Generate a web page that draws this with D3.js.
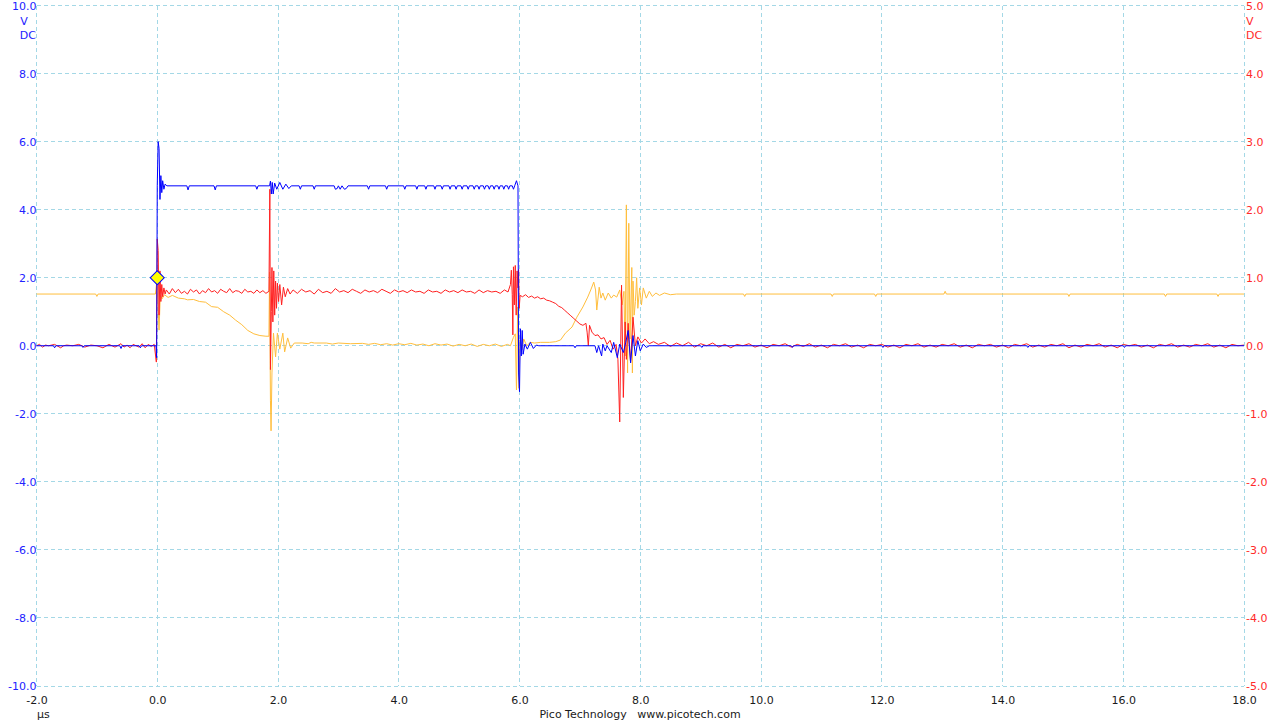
<!DOCTYPE html>
<html><head><meta charset="utf-8">
<script src="https://cdn.jsdelivr.net/npm/d3@7"></script>
<style>
body{margin:0;background:#fff}
svg{display:block}
text{font-family:"DejaVu Sans",sans-serif;font-size:11px}
</style></head>
<body><svg id="c" width="1280" height="720"></svg>
<script>
// ---- tick labels ----
const xTicks = [-2,0,2,4,6,8,10,12,14,16,18];
const leftTicks = [-10,-8,-6,-4,-2,0,2,4,6,8,10];
const rightTicks = [-5,-4,-3,-2,-1,0,1,2,3,4,5];
const xUnit = "µs";
const leftUnit = ["V","DC"];
const rightUnit = ["V","DC"];
const footer = "Pico Technology   www.picotech.com";
const trigger = [0, 2.0];   // [µs, V left axis]

// ---- Channel A (blue, left axis, V) : [time µs, volts] ----
const chA = [
[-2,0],[-1.72,0],[-1.7,-0.06],[-1.68,0],[-1.25,0],[-1.23,-0.05],[-1.21,0],[-0.62,0],[-0.6,-0.08],[-0.58,0],[-0.3,0],[-0.28,-0.06],[-0.26,0],[-0.02,0],
[-0.01,-0.35],[0,4.7],[0.015,6.0],[0.03,5.8],[0.045,4.3],[0.06,5.0],[0.075,4.5],[0.09,4.85],[0.11,4.6],[0.13,4.75],[0.16,4.7],
[0.49,4.7],[0.51,4.58],[0.53,4.7],[0.94,4.7],[0.96,4.58],[0.98,4.7],[1.63,4.7],[1.65,4.6],[1.67,4.7],
[1.86,4.7],[1.875,4.84],[1.89,4.46],[1.905,4.8],[1.92,4.46],[1.945,4.78],[1.98,4.6],[2.03,4.8],[2.08,4.6],[2.13,4.75],[2.18,4.62],[2.22,4.7],
[2.35,4.7],[2.37,4.6],[2.39,4.7],[2.58,4.7],[2.6,4.6],[2.62,4.7],
[2.93,4.7],[2.95,4.6],[2.98,4.62],[3.0,4.7],[3.03,4.6],[3.06,4.7],[3.1,4.6],[3.13,4.62],[3.16,4.7],
[3.48,4.7],[3.5,4.6],[3.52,4.7],[3.78,4.7],[3.8,4.6],[3.82,4.7],[4.08,4.7],[4.1,4.6],[4.12,4.7],
[4.28,4.7],[4.3,4.6],[4.32,4.7],[4.43,4.7],[4.45,4.6],[4.47,4.7],[4.58,4.7],[4.6,4.6],[4.62,4.7],
[4.7,4.7],[4.72,4.6],[4.74,4.7],[4.83,4.7],[4.85,4.6],[4.87,4.7],[4.93,4.7],[4.95,4.6],[4.97,4.7],
[5.03,4.7],[5.05,4.6],[5.07,4.7],[5.13,4.7],[5.15,4.6],[5.17,4.7],[5.23,4.7],[5.25,4.6],[5.27,4.7],
[5.31,4.7],[5.33,4.6],[5.35,4.7],[5.4,4.7],[5.42,4.6],[5.44,4.7],[5.48,4.7],[5.5,4.6],[5.52,4.7],
[5.56,4.7],[5.58,4.6],[5.6,4.7],[5.64,4.7],[5.66,4.6],[5.68,4.7],[5.72,4.7],[5.74,4.6],[5.76,4.7],
[5.8,4.7],[5.82,4.6],[5.84,4.7],[5.88,4.7],[5.9,4.6],[5.92,4.7],
[5.95,4.85],[5.975,4.7],[5.985,-0.8],[6.0,-1.35],[6.015,0.5],[6.03,-0.3],[6.045,0.45],[6.06,-0.25],[6.09,0.05],[6.13,-0.1],[6.18,0.1],[6.23,-0.08],[6.28,0.02],[6.32,0],
[6.9,0],[6.92,-0.06],[6.94,0],
[7.25,0],[7.28,-0.2],[7.31,0],[7.36,-0.3],[7.38,0.05],[7.42,-0.15],[7.45,0],[7.52,-0.2],[7.56,0.1],[7.62,-0.35],[7.66,0.05],[7.72,-0.2],[7.76,0.1],[7.8,0.45],[7.84,-0.5],[7.88,0.3],[7.92,-0.3],[7.96,0.15],[8.0,-0.15],[8.05,0.05],[8.1,-0.05],[8.15,0],
[9.0,0],[9.02,-0.05],[9.04,0],[10.5,0],[10.52,-0.05],[10.54,0],[12.0,0],[12.02,-0.05],[12.04,0],[14.4,0],[14.42,-0.05],[14.44,0],[16.0,0],[16.02,-0.05],[16.04,0],[18,0]
];

// ---- Channel B (red, right axis, V) ----
const chB = [
[-2,0],[-1.95,0.02],[-1.9,-0.02],[-1.85,0.01],[-1.8,0],[-1.7,0.02],[-1.6,-0.03],[-1.55,0],[-1.5,0.01],[-1.4,0],[-1.3,0.02],[-1.2,-0.02],[-1.1,0.01],[-1.0,0],[-0.9,-0.03],[-0.8,0.02],[-0.7,-0.02],[-0.6,0.03],[-0.55,-0.02],[-0.5,0.01],[-0.45,-0.03],[-0.4,0.02],[-0.3,-0.02],[-0.25,0.03],[-0.2,-0.03],[-0.15,0.02],[-0.1,-0.01],[-0.05,0.02],
[-0.015,-0.24],[0.0,1.57],[0.015,1.4],[0.03,0.45],[0.045,1.1],[0.06,0.65],[0.075,0.9],[0.09,0.72],[0.11,0.85],[0.13,0.76],
[0.15,0.82],[0.2,0.76],[0.25,0.84],[0.3,0.78],[0.35,0.83],[0.4,0.77],[0.45,0.8],[0.5,0.76],[0.55,0.83],[0.6,0.79],[0.65,0.82],[0.7,0.76],[0.75,0.81],[0.8,0.78],[0.85,0.84],[0.9,0.79],[0.95,0.81],[1.0,0.77],[1.05,0.83],[1.1,0.8],[1.15,0.78],[1.2,0.84],[1.25,0.78],[1.3,0.81],[1.35,0.8],[1.4,0.77],[1.45,0.83],[1.5,0.79],[1.55,0.8],[1.6,0.77],[1.65,0.82],[1.7,0.78],[1.75,0.81],[1.8,0.77],[1.85,0.8],
[1.865,2.3],[1.875,-0.35],[1.89,0.5],[1.9,1.15],[1.915,0.35],[1.93,1.1],[1.945,0.45],[1.96,0.95],[1.975,0.55],[1.99,0.92],[2.01,0.65],[2.03,0.9],[2.06,0.6],[2.09,0.86],[2.12,0.72],[2.16,0.84],[2.2,0.76],
[2.25,0.82],[2.32,0.77],[2.39,0.83],[2.46,0.79],[2.53,0.81],[2.6,0.76],[2.67,0.83],[2.74,0.78],[2.81,0.8],[2.88,0.77],[2.95,0.84],[3.02,0.79],[3.09,0.81],[3.16,0.78],[3.23,0.83],[3.3,0.8],[3.37,0.77],[3.44,0.82],[3.51,0.79],[3.58,0.81],[3.65,0.78],[3.72,0.83],[3.79,0.8],[3.86,0.77],[3.93,0.82],[4.0,0.79],[4.07,0.81],[4.14,0.78],[4.21,0.82],[4.28,0.79],[4.35,0.8],[4.42,0.77],[4.49,0.82],[4.56,0.79],[4.63,0.8],[4.7,0.77],[4.77,0.82],[4.84,0.79],[4.91,0.81],[4.98,0.78],[5.05,0.82],[5.12,0.79],[5.19,0.8],[5.26,0.77],[5.33,0.82],[5.4,0.78],[5.47,0.81],[5.54,0.79],[5.61,0.8],[5.68,0.77],[5.75,0.82],[5.81,0.79],
[5.85,0.9],[5.865,1.11],[5.88,0.75],[5.89,0.16],[5.9,1.16],[5.915,0.6],[5.93,1.18],[5.945,0.45],[5.96,1.1],[5.975,0.85],[5.985,1.12],[5.995,0.55],[6.01,0.74],
[6.05,0.72],[6.1,0.75],[6.15,0.71],[6.2,0.73],[6.25,0.7],[6.3,0.72],[6.35,0.69],[6.4,0.7],[6.45,0.67],[6.5,0.66],[6.55,0.64],[6.6,0.62],[6.65,0.58],[6.7,0.56],[6.75,0.52],[6.8,0.48],[6.85,0.44],[6.9,0.4],[6.95,0.36],[7.0,0.32],[7.05,0.3],[7.1,0.33],[7.12,0.2],[7.14,0.0],[7.16,0.3],[7.2,0.2],[7.25,0.15],[7.3,0.16],[7.35,0.1],[7.4,0.12],[7.45,0.02],[7.5,0.08],[7.55,-0.05],[7.6,0.02],[7.63,-0.2],[7.66,-1.12],[7.69,0.89],[7.72,-0.76],[7.75,0.35],[7.77,-0.2],[7.8,0.33],[7.84,-0.25],[7.88,0.42],[7.92,0.0],[7.96,0.13],[8.02,0.04],[8.08,0.1],[8.15,0.03],[8.22,0.06],[8.3,0.02],
[8.4,0.05],[8.5,-0.01],[8.6,0.04],[8.7,0.0],[8.8,0.05],[8.9,-0.02],[9.0,0.03],[9.1,0.0],[9.2,0.04],[9.3,-0.02],[9.4,0.02],[9.5,-0.03],[9.6,0.02],[9.7,0.0],[9.8,0.03],[9.9,-0.02],[10.0,0.01],[10.1,-0.03],[10.2,0.02],[10.3,0.0],[10.4,0.03],[10.5,-0.02],[10.6,0.02],[10.7,-0.01],[10.8,0.03],[10.9,-0.02],[11.0,0.01],[11.1,-0.03],[11.2,0.02],[11.3,0.0],[11.4,0.03],[11.5,-0.02],[11.6,0.01],[11.7,-0.03],[11.8,0.02],[11.9,0.0],[12.0,0.02],[12.1,-0.02],[12.2,0.01],[12.3,-0.03],[12.4,0.02],[12.5,0.0],[12.6,0.03],[12.7,-0.02],[12.8,0.01],[12.9,-0.02],[13.0,0.02],[13.1,0.0],[13.2,0.03],[13.3,-0.02],[13.4,0.01],[13.5,-0.03],[13.6,0.02],[13.7,0.0],[13.8,0.02],[13.9,-0.02],[14.0,0.01],[14.1,-0.03],[14.2,0.02],[14.3,0.0],[14.4,0.03],[14.5,-0.02],[14.6,0.01],[14.7,-0.02],[14.8,0.02],[14.9,0.0],[15.0,0.03],[15.1,-0.03],[15.2,0.01],[15.3,-0.02],[15.4,0.02],[15.5,0.0],[15.6,0.03],[15.7,-0.02],[15.8,0.01],[15.9,-0.03],[16.0,0.02],[16.1,0.0],[16.2,0.02],[16.3,-0.02],[16.4,0.01],[16.5,-0.03],[16.6,0.02],[16.7,0.0],[16.8,0.03],[16.9,-0.02],[17.0,0.01],[17.1,-0.02],[17.2,0.02],[17.3,0.0],[17.4,0.03],[17.5,-0.02],[17.6,0.01],[17.7,-0.03],[17.8,0.02],[17.9,0.0],[18.0,0.01]
];

// ---- Channel C (orange, drawn on left axis, V) ----
const chC = [
[-2,1.52],[-1.02,1.52],[-1.0,1.45],[-0.98,1.52],[-0.03,1.52],
[-0.01,1.84],[0.01,1.3],[0.03,0.46],[0.05,1.48],[0.08,1.38],[0.12,1.5],[0.18,1.42],[0.25,1.48],[0.35,1.4],[0.45,1.38],[0.5,1.35],[0.6,1.36],[0.7,1.3],[0.8,1.28],[0.9,1.15],[1.0,1.13],[1.1,1.0],[1.2,0.9],[1.3,0.75],[1.4,0.62],[1.5,0.45],[1.6,0.35],[1.7,0.3],[1.8,0.28],[1.85,0.28],
[1.86,2.16],[1.875,-1.6],[1.885,-2.5],[1.9,-0.8],[1.925,0.37],[1.96,-0.33],[1.99,0.37],[2.03,-0.1],[2.08,0.37],[2.11,-0.18],[2.16,0.23],[2.21,-0.07],[2.27,0.08],
[2.4,0.08],[2.5,0.06],[2.55,0.1],[2.6,0.08],[2.8,0.08],[2.9,0.05],[3.0,0.08],[3.2,0.06],[3.4,0.07],[3.5,0.04],[3.6,0.07],[3.7,0.03],[3.8,0.06],[3.9,0.02],[4.0,0.06],[4.1,0.03],[4.2,0.07],[4.3,0.02],[4.4,0.05],[4.5,0.0],[4.6,0.06],[4.7,0.02],[4.8,0.05],[4.9,-0.01],[5.0,0.04],[5.1,0.0],[5.2,0.05],[5.3,-0.02],[5.4,0.04],[5.5,0.0],[5.6,0.05],[5.7,-0.02],[5.8,0.04],[5.85,0.0],
[5.9,0.25],[5.93,0.35],[5.95,-1.3],[5.97,1.14],[5.99,-1.25],[6.01,0.17],[6.04,-0.12],[6.07,0.2],[6.12,0.0],[6.18,0.1],[6.25,0.08],[6.35,0.1],[6.5,0.1],
[6.6,0.12],[6.68,0.17],[6.76,0.37],[6.87,0.55],[6.95,0.84],[7.05,1.14],[7.13,1.43],[7.18,1.64],[7.23,1.87],[7.26,1.64],[7.28,1.05],[7.32,1.72],[7.35,1.4],[7.38,1.55],[7.42,1.34],[7.47,1.55],[7.52,1.4],[7.56,1.49],[7.61,1.43],[7.66,1.64],[7.7,1.2],[7.73,1.6],
[7.75,-0.3],[7.77,4.14],[7.79,-0.8],[7.81,3.6],[7.83,0.2],[7.86,2.3],[7.87,-0.8],[7.88,1.9],[7.9,0.9],[7.92,1.3],[7.94,2.0],[7.96,1.1],[7.99,1.7],[8.02,1.2],[8.05,1.7],[8.1,1.4],[8.15,1.6],[8.2,1.45],[8.26,1.55],[8.32,1.48],[8.4,1.55],[8.5,1.5],[8.6,1.52],
[9.71,1.52],[9.73,1.45],[9.75,1.52],[11.16,1.52],[11.18,1.45],[11.2,1.52],[11.88,1.52],[11.9,1.45],[11.92,1.52],[13.03,1.52],[13.05,1.6],[13.07,1.52],[15.08,1.52],[15.1,1.45],[15.12,1.52],[16.68,1.52],[16.7,1.45],[16.72,1.52],[17.55,1.52],[17.57,1.45],[17.59,1.52],[18,1.52]
];

// ---- drawing ----
const svg = d3.select("#c");
const L = 36.5, R = 1244, T = 5.5, B = 686;
const x = d3.scaleLinear().domain([-2,18]).range([L,R]);
const yL = d3.scaleLinear().domain([-10,10]).range([B,T]);
const yR = d3.scaleLinear().domain([-5,5]).range([B,T]);
const gridCol = "#a4d8e6";
const blue = "#0000ff", red = "#ff2020", orange = "#ffbe3c";
const snap = v => Math.round(v - 0.5) + 0.5;

const grid = svg.append("g").attr("stroke", gridCol).attr("stroke-width", 1).attr("stroke-dasharray", "4,3").attr("shape-rendering", "crispEdges");
grid.selectAll("line.v").data(xTicks).join("line")
  .attr("x1", d => snap(x(d))).attr("x2", d => snap(x(d))).attr("y1", T).attr("y2", B);
grid.selectAll("line.h").data(leftTicks).join("line")
  .attr("y1", d => snap(yL(d))).attr("y2", d => snap(yL(d))).attr("x1", L).attr("x2", R);

const fmt = d => d.toFixed(1);
const axL = svg.append("g").attr("transform", `translate(${L},0)`)
  .call(d3.axisLeft(yL).tickValues(leftTicks).tickFormat(fmt).tickSize(0).tickPadding(0));
axL.select(".domain").remove();
axL.selectAll("text").attr("fill", "#2222ff").style("font-family", "DejaVu Sans").style("font-size", "11px");

const axR = svg.append("g").attr("transform", `translate(${R},0)`)
  .call(d3.axisRight(yR).tickValues(rightTicks).tickFormat(fmt).tickSize(0).tickPadding(2));
axR.select(".domain").remove();
axR.selectAll("text").attr("fill", "#ff2a2a").style("font-family", "DejaVu Sans").style("font-size", "11px");

const axB = svg.append("g").attr("transform", `translate(0,${B})`)
  .call(d3.axisBottom(x).tickValues(xTicks).tickFormat(fmt).tickSize(0).tickPadding(10));
axB.select(".domain").remove();
axB.selectAll("text").attr("fill", "#1a1a1a").style("font-family", "DejaVu Sans").style("font-size", "11px");

svg.append("text").attr("x", 24).attr("y", 25).attr("text-anchor", "middle").attr("fill", "#2222ff").text(leftUnit[0]);
svg.append("text").attr("x", 36).attr("y", 39).attr("text-anchor", "end").attr("fill", "#2222ff").text(leftUnit[1]);
svg.append("text").attr("x", 1246).attr("y", 25).attr("fill", "#ff2a2a").text(rightUnit[0]);
svg.append("text").attr("x", 1246).attr("y", 39).attr("fill", "#ff2a2a").text(rightUnit[1]);
svg.append("text").attr("x", 37).attr("y", 718).attr("fill", "#1a1a1a").text(xUnit);
svg.append("text").attr("x", 640).attr("y", 718).attr("text-anchor", "middle").attr("fill", "#1a1a1a")
  .style("white-space", "pre").attr("xml:space", "preserve").text(footer);

const lineL = d3.line().x(d => x(d[0])).y(d => yL(d[1]));
const lineR = d3.line().x(d => x(d[0])).y(d => yR(d[1]));
const traces = svg.append("g").attr("fill", "none").attr("stroke-width", 1).attr("stroke-linejoin", "miter");
traces.append("path").datum(chC).attr("stroke", orange).attr("d", lineL);
traces.append("path").datum(chB).attr("stroke", red).attr("d", lineR);
traces.append("path").datum(chA).attr("stroke", blue).attr("d", lineL);

svg.append("path")
  .attr("d", d3.symbol(d3.symbolSquare, 98)())
  .attr("transform", `translate(${x(trigger[0])},${yL(trigger[1])}) rotate(45)`)
  .attr("fill", "#ffff00").attr("stroke", blue).attr("stroke-width", 1);
</script></body></html>
